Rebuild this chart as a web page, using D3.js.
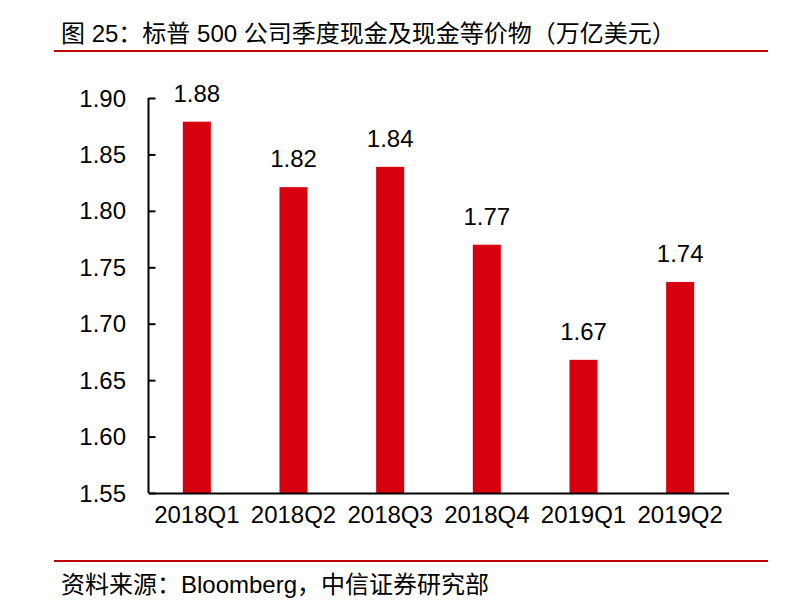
<!DOCTYPE html>
<html><head><meta charset="utf-8">
<script src="https://cdn.jsdelivr.net/npm/d3@7"></script>
<style>body{margin:0;background:#fff}svg{display:block}</style>
</head><body><svg id="c" width="788" height="612"></svg>
<script>
const categories = ["2018Q1","2018Q2","2018Q3","2018Q4","2019Q1","2019Q2"];
const values = [1.879, 1.821, 1.839, 1.770, 1.668, 1.737];
const valueLabels = ["1.88","1.82","1.84","1.77","1.67","1.74"];
const yTicks = [1.55,1.60,1.65,1.70,1.75,1.80,1.85,1.90];
const titleText = "图 25：标普 500 公司季度现金及现金等价物（万亿美元）";
const sourceText = "资料来源：Bloomberg，中信证券研究部";

const svg = d3.select("#c");
const font = "'Liberation Sans', Arial, 'Noto Sans CJK SC', sans-serif";
const red = "#d7000f";
const x = d3.scaleBand().domain(categories).range([148.5, 728.5]).paddingInner(0.71).paddingOuter(0.355);
const y = d3.scaleLinear().domain([1.55, 1.90]).range([493, 98]);

svg.append("text").attr("x", 61).attr("y", 42).attr("font-family", font).attr("font-size", 24).attr("fill", "#000").text(titleText);
svg.append("line").attr("x1", 54).attr("x2", 768).attr("y1", 51).attr("y2", 51).attr("stroke", "#c00000").attr("stroke-width", 2);
svg.append("line").attr("x1", 54).attr("x2", 768).attr("y1", 561).attr("y2", 561).attr("stroke", "#c00000").attr("stroke-width", 2);
svg.append("text").attr("x", 61).attr("y", 593).attr("font-family", font).attr("font-size", 24).attr("fill", "#000").text(sourceText);

svg.selectAll("rect.bar").data(values).enter().append("rect").attr("class","bar")
  .attr("x", (d,i) => x(categories[i])).attr("width", x.bandwidth())
  .attr("y", d => y(d)).attr("height", d => y(1.55) - y(d)).attr("fill", red);

svg.selectAll("text.val").data(values).enter().append("text").attr("class","val")
  .attr("x", (d,i) => x(categories[i]) + x.bandwidth()/2).attr("y", d => y(d) - 20)
  .attr("text-anchor","middle").attr("font-family", font).attr("font-size", 24).text((d,i) => valueLabels[i]);

const yAxis = svg.append("g").attr("transform","translate(148.5,0)")
  .call(d3.axisRight(y).tickValues(yTicks).tickSize(7).tickFormat(""));
yAxis.select(".domain").attr("stroke","#000").attr("stroke-width",2).attr("d","M0,98V493");
yAxis.selectAll(".tick line").attr("stroke","#000").attr("stroke-width",2);
svg.selectAll("text.yl").data(yTicks).enter().append("text").attr("class","yl")
  .attr("x", 126).attr("y", d => y(d) + 8.5).attr("text-anchor","end")
  .attr("font-family", font).attr("font-size", 24).text(d => d.toFixed(2));

const xAxis = svg.append("g").attr("transform","translate(0,493)")
  .call(d3.axisBottom(x).tickSize(0).tickPadding(13));
xAxis.select(".domain").attr("stroke","#000").attr("stroke-width",2);
xAxis.selectAll(".tick text").attr("font-family", font).attr("font-size", 24).attr("fill","#000").attr("dy","0.71em");
</script></body></html>
